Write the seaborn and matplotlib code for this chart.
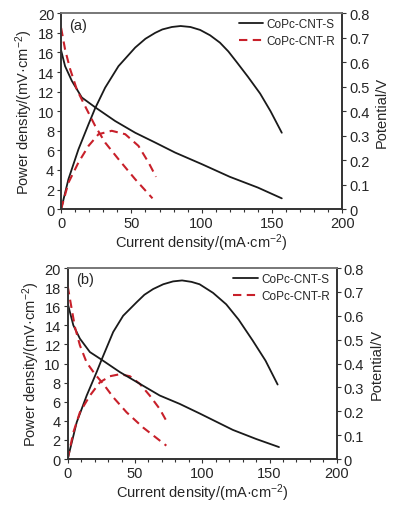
import matplotlib
matplotlib.use("Agg")
import matplotlib.pyplot as plt
from matplotlib.ticker import MultipleLocator, FuncFormatter
import seaborn as sns
import pandas as pd

sns.set_theme(style="ticks")
plt.rcParams['font.family'] = ['Liberation Sans', 'DejaVu Sans']
plt.rcParams['mathtext.fontset'] = 'custom'
plt.rcParams['mathtext.rm'] = 'Liberation Sans'
plt.rcParams['mathtext.it'] = 'Liberation Sans'

# ---- panel (a) ----
a_s_pol_i = [0, 2.8, 7.6, 14.7, 24.2, 38.4, 52.7, 66.9, 81.1, 100, 120, 140, 157]
a_s_pol_v = [0.648, 0.584, 0.524, 0.456, 0.416, 0.360, 0.312, 0.272, 0.231, 0.184, 0.132, 0.088, 0.044]
a_s_pow_i = [0, 5.2, 12.3, 19.5, 24.2, 31.3, 40.8, 52.7, 60, 66.9, 72, 78.8, 85, 92,
             98.9, 106, 113, 119, 125, 133, 141.6, 149, 157]
a_s_pow = [0, 3.06, 6.1, 8.67, 10.3, 12.4, 14.6, 16.5, 17.4, 18.0, 18.35, 18.6, 18.7, 18.6,
           18.3, 17.75, 17.0, 16.1, 15.0, 13.5, 11.8, 10.0, 7.8]
a_r_pol_i = [0, 2.8, 6.4, 11.2, 17.1, 24.2, 31.3, 40.8, 52.7, 65]
a_r_pol_v = [0.740, 0.652, 0.572, 0.488, 0.420, 0.340, 0.272, 0.204, 0.122, 0.044]
a_r_pow_i = [0, 5.2, 12.3, 19.5, 26.6, 36, 45.6, 55, 62.2, 67.5]
a_r_pow = [0, 2.7, 4.76, 6.46, 7.65, 8.0, 7.65, 6.46, 4.76, 3.3]

# ---- panel (b) ----
b_s_pol_i = [0, 4.2, 9.1, 16.5, 25.2, 38.8, 53.6, 68.4, 83.2, 98, 122.7, 140, 157]
b_s_pol_v = [0.652, 0.560, 0.504, 0.448, 0.416, 0.364, 0.315, 0.266, 0.231, 0.191, 0.122, 0.084, 0.050]
b_s_pow_i = [0, 6.7, 14.1, 21.5, 25.2, 33.8, 41.2, 51.1, 57, 63.5, 71, 78.3, 85, 92,
             98, 108, 117.8, 127, 137.5, 147, 156]
b_s_pow = [0, 3.85, 6.64, 9.1, 10.4, 13.3, 15.0, 16.4, 17.2, 17.8, 18.3, 18.6, 18.7, 18.55,
           18.3, 17.4, 16.2, 14.6, 12.4, 10.3, 7.8]
b_r_pol_i = [0, 3, 5.4, 9.1, 14.1, 20.2, 26.4, 33.8, 43.7, 56, 73.3]
b_r_pol_v = [0.724, 0.628, 0.552, 0.476, 0.404, 0.356, 0.315, 0.259, 0.196, 0.132, 0.056]
b_r_pow_i = [0, 4.2, 9.1, 16.5, 24, 31.4, 38.8, 46.2, 53.6, 61, 68.4, 74.6]
b_r_pow = [0, 2.8, 4.9, 6.64, 8.04, 8.67, 8.88, 8.67, 7.87, 6.64, 5.24, 3.67]

panels = [
    ("(a)", [0.154, 0.588, 0.708, 0.384],
     (a_s_pol_i, a_s_pol_v), (a_s_pow_i, a_s_pow),
     (a_r_pol_i, a_r_pol_v), (a_r_pow_i, a_r_pow)),
    ("(b)", [0.1705, 0.098, 0.678, 0.3745],
     (b_s_pol_i, b_s_pol_v), (b_s_pow_i, b_s_pow),
     (b_r_pol_i, b_r_pol_v), (b_r_pow_i, b_r_pow)),
]

RED = "#c8202a"
DARK = "#1a1a1a"
fig = plt.figure(figsize=(3.97, 5.10), dpi=100)

for tag, rect, s_pol, s_pow, r_pol, r_pow in panels:
    ax = fig.add_axes(rect)
    ax2 = ax.twinx()
    dfp = lambda xy, col: pd.DataFrame({"i": xy[0], col: xy[1]})
    # power density on the left axis
    sns.lineplot(data=dfp(s_pow, "p"), x="i", y="p", ax=ax, color=DARK,
                 lw=1.3, sort=False, estimator=None)
    sns.lineplot(data=dfp(r_pow, "p"), x="i", y="p", ax=ax, color=RED,
                 lw=1.5, sort=False, estimator=None)
    ax.lines[-1].set_dashes((4, 2.6))
    # potential on the right axis
    sns.lineplot(data=dfp(s_pol, "v"), x="i", y="v", ax=ax2, color=DARK,
                 lw=1.3, sort=False, estimator=None, label="CoPc-CNT-S")
    sns.lineplot(data=dfp(r_pol, "v"), x="i", y="v", ax=ax2, color=RED,
                 lw=1.5, sort=False, estimator=None, label="CoPc-CNT-R")
    ax2.lines[-1].set_dashes((4, 2.6))

    ax.set_xlim(0, 200)
    ax.set_ylim(0, 20)
    ax2.set_ylim(0, 0.8)
    ax.xaxis.set_major_locator(MultipleLocator(50))
    ax.xaxis.set_minor_locator(MultipleLocator(10))
    ax.yaxis.set_major_locator(MultipleLocator(2))
    ax2.yaxis.set_major_locator(MultipleLocator(0.1))
    ax2.yaxis.set_major_formatter(FuncFormatter(lambda v, _: "0" if abs(v) < 1e-9 else f"{v:.1f}"))

    for a in (ax, ax2):
        a.tick_params(which="both", direction="out", labelsize=10.5, width=0.8, color="#333333", pad=2)
        a.tick_params(which="major", length=3)
        a.tick_params(which="minor", length=2)
        for side in ("left", "bottom", "right"):
            a.spines[side].set_color("#333333")
            a.spines[side].set_linewidth(1.2)
            a.spines[side].set_visible(True)
        a.spines["top"].set_color("#777777")
        a.spines["top"].set_linewidth(1.2)
        a.spines["top"].set_visible(True)

    ax.set_xlabel("Current density/(mA·cm$^{-2}$)", fontsize=10.5, labelpad=1)
    ax.set_ylabel("Power density/(mV·cm$^{-2}$)", fontsize=10.5, labelpad=2)
    ax2.set_ylabel("Potential/V", fontsize=10.5, labelpad=4)
    ax.text(0.03, 0.94, tag, transform=ax.transAxes, fontsize=10.5, va="center", ha="left")

    ax2.legend(loc="upper right", frameon=False, fontsize=8.5, handlelength=2.1,
               handletextpad=0.25, borderaxespad=0.2, labelspacing=0.4,
               bbox_to_anchor=(1.0, 1.01))

fig.savefig("out.png", dpi=100)
